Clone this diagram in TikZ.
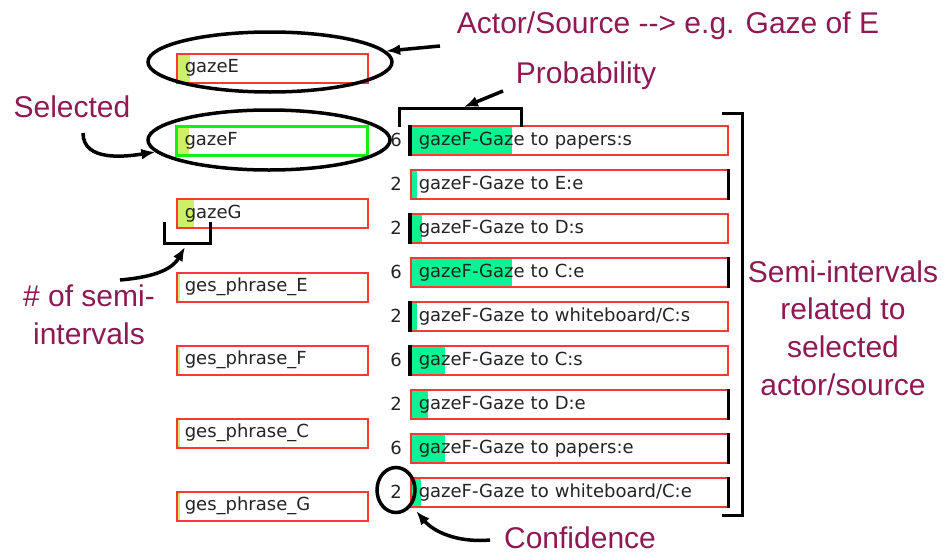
\documentclass[tikz,border=0pt]{standalone}
\usepackage{fontspec}
\setmainfont{Liberation Sans}
\newfontfamily\boxfamily{DejaVu Sans}
\usepackage{tikz}
\usetikzlibrary{arrows.meta,positioning,shapes.geometric}
\definecolor{notered}{RGB}{142,25,83}
\definecolor{boxred}{RGB}{255,55,55}
\definecolor{selgreen}{RGB}{20,240,20}
\definecolor{limebar}{RGB}{205,240,100}
\definecolor{probgreen}{RGB}{10,245,145}
\definecolor{textgray}{RGB}{35,35,35}
\newcommand{\notefont}{\fontsize{30}{37.7}\selectfont}
\newcommand{\boxfont}{\boxfamily\fontsize{18}{21}\selectfont}
\tikzset{
  srcbox/.style   = {draw=boxred, line width=1.5pt, minimum height=29pt,
                     text width=175pt, inner xsep=8pt, inner ysep=0pt,
                     align=left, font=\boxfont, text=textgray, anchor=north west},
  selbox/.style   = {srcbox, draw=selgreen, line width=3pt},
  semibox/.style  = {srcbox, text width=301pt},
  barfill/.style 2 args = {path picture={\fill[#1]
                     (path picture bounding box.north west) rectangle
                     ([xshift=#2]path picture bounding box.south west);}},
  confnum/.style  = {font=\boxfont, text=textgray, inner sep=0pt},
  ring/.style     = {ellipse, draw, line width=3.5pt, inner sep=0pt},
  brk/.style      = {line width=3pt},
  sidemark/.style = {line width=3.5pt},
  callout/.style  = {-{Latex[length=14pt,width=11pt]}, line width=3.5pt},
  note/.style     = {font=\notefont, text=notered, align=center, inner sep=0pt}
}
\begin{document}
\begin{tikzpicture}[x=1pt,y=1pt]
  \useasboundingbox (0,0) rectangle (944,-554);

  % actors / sources
  \node[srcbox, barfill={limebar}{13pt}] (gazeE)   at (176,-53)  {gazeE};
  \node[selbox, barfill={limebar}{12pt}] (gazeF)   at (175,-125) {gazeF};
  \node[srcbox, barfill={limebar}{17pt}] (gazeG)   at (176,-198) {gazeG};
  \node[srcbox, barfill={limebar}{3pt}]  (phraseE) at (176,-272) {ges\_phrase\_E};
  \node[srcbox, barfill={limebar}{3pt}]  (phraseF) at (176,-345) {ges\_phrase\_F};
  \node[srcbox, barfill={limebar}{3pt}]  (phraseC) at (176,-418) {ges\_phrase\_C};
  \node[srcbox, barfill={limebar}{3pt}]  (phraseG) at (176,-491) {ges\_phrase\_G};

  % semi-intervals of gazeF
  \node[semibox, barfill={probgreen}{101pt}] (semi1) at (410,-125) {gazeF-Gaze to papers:s};
  \node[semibox, barfill={probgreen}{6pt}]   (semi2) at (410,-169) {gazeF-Gaze to E:e};
  \node[semibox, barfill={probgreen}{11pt}]  (semi3) at (410,-213) {gazeF-Gaze to D:s};
  \node[semibox, barfill={probgreen}{101pt}] (semi4) at (410,-257) {gazeF-Gaze to C:e};
  \node[semibox, barfill={probgreen}{6pt}]   (semi5) at (410,-301) {gazeF-Gaze to whiteboard/C:s};
  \node[semibox, barfill={probgreen}{34pt}]  (semi6) at (410,-345) {gazeF-Gaze to C:s};
  \node[semibox, barfill={probgreen}{17pt}]  (semi7) at (410,-389) {gazeF-Gaze to D:e};
  \node[semibox, barfill={probgreen}{34pt}]  (semi8) at (410,-433) {gazeF-Gaze to papers:e};
  \node[semibox, barfill={probgreen}{10pt}]  (semi9) at (410,-477) {gazeF-Gaze to whiteboard/C:e};

  \node[confnum, left=8pt of semi1] (conf1) {6};
  \node[confnum, left=8pt of semi2] (conf2) {2};
  \node[confnum, left=8pt of semi3] (conf3) {2};
  \node[confnum, left=8pt of semi4] (conf4) {6};
  \node[confnum, left=8pt of semi5] (conf5) {2};
  \node[confnum, left=8pt of semi6] (conf6) {6};
  \node[confnum, left=8pt of semi7] (conf7) {2};
  \node[confnum, left=8pt of semi8] (conf8) {6};
  \node[confnum, left=8pt of semi9] (conf9) {2};

  % start (:s) and end (:e) marks
  \draw[sidemark] (semi1.north west) -- (semi1.south west);
  \draw[sidemark] (semi2.north east) -- (semi2.south east);
  \draw[sidemark] (semi3.north west) -- (semi3.south west);
  \draw[sidemark] (semi4.north east) -- (semi4.south east);
  \draw[sidemark] (semi5.north west) -- (semi5.south west);
  \draw[sidemark] (semi6.north west) -- (semi6.south west);
  \draw[sidemark] (semi7.north east) -- (semi7.south east);
  \draw[sidemark] (semi8.north east) -- (semi8.south east);
  \draw[sidemark] (semi9.north east) -- (semi9.south east);

  % annotations
  \node[ring, minimum width=244pt, minimum height=60pt] (ringE) at (270,-62) {};
  \node[ring, minimum width=242pt, minimum height=60pt] (ringF) at (269,-140) {};
  \node[ring, minimum width=38pt, minimum height=45pt] (ringConf) at (396,-490) {};

  \draw[brk] (399,-127) |- (521,-108) -- (521,-127);
  \draw[brk] (164,-222) |- (210,-243) -- (210,-222);
  \draw[brk] (722,-113) -| (742,-515) -- (722,-515);

  \node[note, anchor=base] (actorNote) at (668,-33)
    {Actor/Source -\kern0pt-\kern0pt> e.g. Gaze of E};
  \node[note, anchor=base] (probNote) at (586,-83) {Probability};
  \node[note, anchor=base] (selNote) at (72,-117) {Selected};
  \node[note] (countNote) at (89,-315) {\# of semi-\\intervals};
  \node[note] (semiNote) at (843,-328)
    {Semi-intervals\\related to\\selected\\actor/source};
  \node[note, anchor=base] (confNote) at (580,-548) {Confidence};

  \coordinate (actorTail) at (440,-46);
  \coordinate (probTail)  at (503,-91);
  \coordinate (probTip)   at (464,-107);
  \coordinate (selTail)   at (83,-133);
  \coordinate (countTail) at (120,-280);
  \coordinate (countTip)  at (185,-247);
  \coordinate (confTail)  at (490,-540);

  \draw[callout] (actorTail) -- (ringE);
  \draw[callout] (probTail) -- (probTip);
  \draw[callout] (selTail) to[out=-90, in=189] (ringF.186);
  \draw[callout] (countTail) to[out=5, in=-120] (countTip);
  \draw[callout, shorten >=7pt] (confTail) to[out=185, in=-50] (ringConf.-45);
\end{tikzpicture}
\end{document}
